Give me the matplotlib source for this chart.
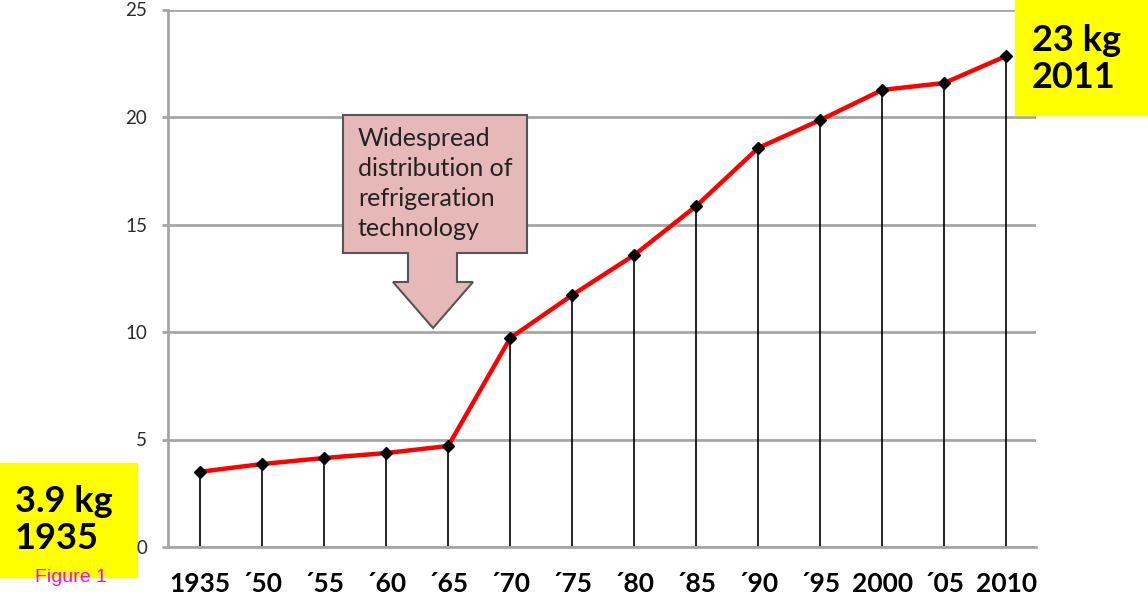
import matplotlib.pyplot as plt
from matplotlib.patches import Polygon, Rectangle

plt.rcParams['font.family'] = ['Lato', 'DejaVu Sans']

# data
years = ['1935', '´50', '´55', '´60', '´65', '´70', '´75', '´80', '´85',
         '´90', '´95', '2000', '´05', '2010']
kg = [3.5, 3.86, 4.14, 4.37, 4.7, 9.72, 11.72, 13.58, 15.86,
      18.56, 19.86, 21.26, 21.58, 22.84]
yticks = [0, 5, 10, 15, 20, 25]

W, H = 1148, 596
fig = plt.figure(figsize=(W / 100, H / 100), dpi=100)
ax = fig.add_axes([168 / W, 1 - 547 / H, 868 / W, 537.5 / H])

x = list(range(len(years)))
ax.vlines(x, 0, kg, color='black', lw=1.2, zorder=2)
ax.plot(x, kg, color='#ff0000', lw=3.2, zorder=3)
ax.plot(x, kg, 'D', color='black', ms=6.5, zorder=4)

ax.set_xlim(-0.52, len(years) - 0.52)
ax.set_ylim(0, 25)
ax.set_yticks(yticks)
ax.set_xticks(x)
ax.set_xticklabels(years, fontsize=19, fontweight='bold')
ax.grid(axis='y', color='#a6a6a6', lw=2)
ax.set_axisbelow(True)
for s in ['top', 'right']:
    ax.spines[s].set_visible(False)
for s in ['left', 'bottom']:
    ax.spines[s].set_color('#a6a6a6')
    ax.spines[s].set_linewidth(2)
ax.tick_params(axis='y', length=4, width=2, color='#a6a6a6', pad=11,
               labelsize=13.5, labelcolor='#2a2a2a')
ax.tick_params(axis='x', length=0, pad=18)


def px(pts):
    return [(a / W, 1 - b / H) for a, b in pts]


# callout arrow
shape = [(343, 115), (527, 115), (527, 253), (457, 253), (457, 282),
         (473, 282), (433, 328), (393, 282), (408, 282), (408, 253),
         (343, 253)]
fig.patches.append(Polygon(px(shape), closed=True, transform=fig.transFigure,
                           facecolor='#e6b9b8', edgecolor='#555555', lw=1.5))
fig.text(358 / W, 1 - 127 / H,
         'Widespread\ndistribution of\nrefrigeration\ntechnology',
         fontsize=18, color='#222222', va='top', ha='left', linespacing=1.36)

# yellow boxes (kept under the axes so the "0" tick label stays visible)
fig.patches.append(Rectangle((0, 1 - 577 / H), 137 / W, 114 / H, zorder=-1,
                             transform=fig.transFigure, color='#ffff00'))
fig.text(15 / W, 1 - 520 / H, '3.9 kg\n1935', fontsize=26, fontweight='bold',
         va='center', ha='left', linespacing=1.15)
fig.patches.append(Rectangle((1015 / W, 1 - 115 / H), 133 / W, 115 / H,
                             transform=fig.transFigure, color='#ffff00'))
fig.text(1032 / W, 1 - 59 / H, '23 kg\n2011', fontsize=26, fontweight='bold',
         va='center', ha='left', linespacing=1.15)

fig.text(71 / W, 1 - 578 / H, 'Figure 1', fontsize=14, color='#ff00ff',
         family='Liberation Sans', ha='center', va='center')

fig.savefig('out.png', dpi=100)
